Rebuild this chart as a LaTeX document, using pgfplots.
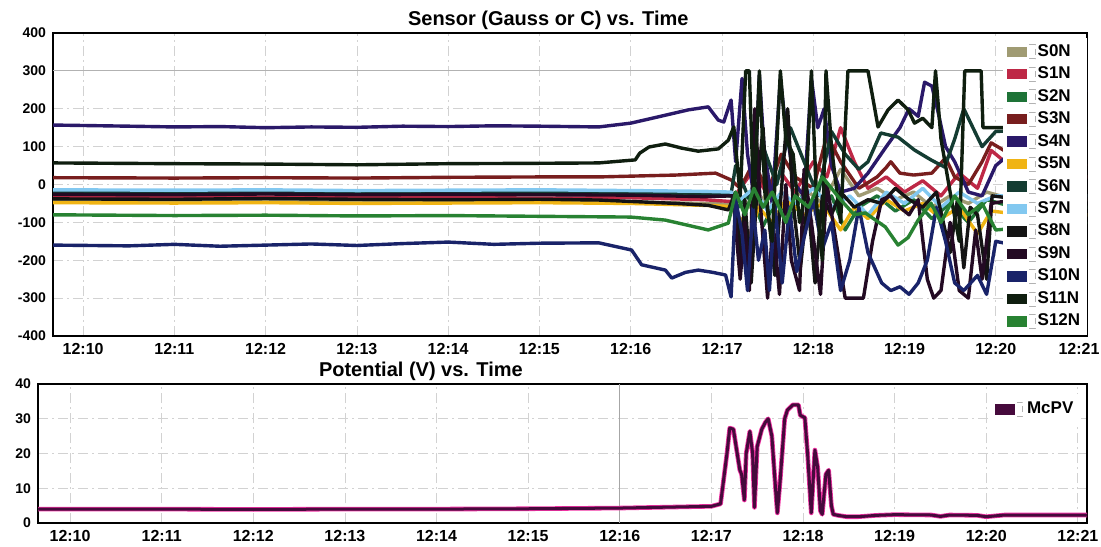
\documentclass[border=0pt]{standalone}
\usepackage{pgfplots}
\pgfplotsset{compat=1.18}
\usepackage{fontspec}
\setmainfont{Liberation Sans}

\definecolor{s0}{RGB}{160,155,115}
\definecolor{s1}{RGB}{190,40,70}
\definecolor{s2}{RGB}{30,115,55}
\definecolor{s3}{RGB}{120,30,30}
\definecolor{s4}{RGB}{42,25,105}
\definecolor{s5}{RGB}{240,180,20}
\definecolor{s6}{RGB}{20,60,50}
\definecolor{s7}{RGB}{130,200,240}
\definecolor{s8}{RGB}{20,20,20}
\definecolor{s9}{RGB}{35,10,35}
\definecolor{s10}{RGB}{25,35,105}
\definecolor{s11}{RGB}{15,30,15}
\definecolor{s12}{RGB}{40,130,50}
\definecolor{mcpv}{RGB}{70,10,60}

\pgfplotsset{
  chart/.style={
    scale only axis,
    anchor=south west,
    grid=major,
    grid style={gray!35, dash pattern=on 5pt off 2pt on 1pt off 2pt, line width=0.4pt},
    axis line style={line width=1.3pt},
    major tick length=0pt,
    xtick={0,1,...,11},
    xticklabels={12:10,12:11,12:12,12:13,12:14,12:15,12:16,12:17,12:18,12:19,12:20,\hspace*{-8pt}12:21},
    x tick label style={font=\fontsize{8}{9}\selectfont\bfseries},
    y tick label style={font=\fontsize{7}{8}\selectfont\bfseries},
    title style={font=\fontsize{10}{11}\selectfont\bfseries, inner sep=1.5pt, yshift=-6pt},
    legend cell align=left,
    legend image code/.code={
      \fill[##1, draw=none] (0pt,-2.6pt) rectangle (10pt,2.6pt);
      \draw[gray!60, densely dashed, line width=0.3pt] (11pt,3.5pt) -- (14pt,3.5pt) -- (14pt,-3.5pt) -- (11pt,-3.5pt);
    },
  },
  sl/.style={line width=1.7pt, line join=round},
}

\begin{document}
\begin{tikzpicture}
\useasboundingbox (0,0) rectangle (550.5pt,273pt);

% ---------------- top axis ----------------
\begin{axis}[chart,
  at={(26.5pt,105pt)}, width=517pt, height=151.5pt,
  xmin=-0.33, xmax=11.0, ymin=-400, ymax=400,
  ytick={-400,-300,...,400},
  yticklabels={-400,-300,-200,-100,0,100,200,300,400},
  title={Sensor (Gauss or C) vs. Time},
  title style={at={(0.479,1)}},
  legend style={at={(1,0.985)}, anchor=north east, fill=white, draw=none,
    font=\fontsize{8.5}{9}\selectfont\bfseries, row sep=1.4pt, inner sep=2pt,
    nodes={inner sep=1.2pt}},
]
% threshold line at 300
\addplot[forget plot, gray!60, line width=0.5pt] coordinates {(-0.33,300) (11,300)};

\addplot[sl, color=s0] coordinates {
(-0.33,-44) (1,-45) (2,-44) (3,-46) (4,-45) (5,-44) (6,-46) (6.8,-50) (7.1,-52)
(7.2,-30) (7.35,-70) (7.5,-20) (7.7,-60) (7.9,-10) (8.1,-50) (8.3,40) (8.5,-30) (8.7,-10) (8.9,-40) (9.1,-20) (9.3,-60) (9.5,-30) (9.7,-50) (9.9,-20) (10.2,-40) (11,-40)};
\addlegendentry{S0N}

\addplot[sl, color=s1] coordinates {
(-0.33,-34) (1,-35) (2,-33) (3,-35) (4,-34) (5,-36) (6,-35) (6.8,-40) (7.1,-45)
(7.2,-10) (7.35,40) (7.5,-30) (7.65,30) (7.8,-20) (8.0,60) (8.15,20) (8.3,150) (8.45,60) (8.6,-10) (8.8,20) (9.0,-20) (9.2,10) (9.4,-30) (9.6,30) (9.8,-10) (9.95,90) (10.3,20) (11,20)};
\addlegendentry{S1N}

\addplot[sl, color=s2] coordinates {
(-0.33,-22) (1,-23) (2,-22) (3,-24) (4,-23) (5,-22) (6,-24) (6.8,-28) (7.1,-30)
(7.18,-60) (7.3,-20) (7.45,-110) (7.6,-40) (7.75,-90) (7.9,-20) (8.05,-80) (8.2,-30) (8.35,-120) (8.5,-60) (8.7,-30) (8.9,-70) (9.1,-40) (9.3,-90) (9.5,-50) (9.7,-100) (9.9,-40) (10.2,-60) (11,-60)};
\addlegendentry{S2N}

\addplot[sl, color=s3] coordinates {
(-0.33,18) (1,17) (2,18) (3,17) (4,19) (5,20) (5.65,20) (6.5,25) (6.93,30) (7.1,12)
(7.2,-10) (7.35,60) (7.5,-20) (7.65,80) (7.8,20) (8.0,-10) (8.15,130) (8.3,60) (8.5,-10) (8.7,20) (8.8,45) (8.85,60) (8.95,30) (9.1,25) (9.3,30) (9.45,70) (9.55,20) (9.7,0) (9.85,60) (9.95,110) (10.3,60) (11,50)};
\addlegendentry{S3N}

\addplot[sl, color=s4] coordinates {
(-0.33,157) (0.5,154) (1,152) (1.5,153) (2,150) (2.5,152) (3,151) (3.5,154) (4,153) (4.5,155) (5,154) (5.65,152)
(6.0,162) (6.2,173) (6.38,183) (6.63,197) (6.85,205) (6.96,170) (7.02,165) (7.1,223)
(7.15,60) (7.22,280) (7.28,80) (7.35,-30) (7.41,290) (7.46,100) (7.55,-50) (7.64,280) (7.7,150) (7.8,0) (7.9,-30) (7.98,280) (8.05,150) (8.12,200) (8.2,50) (8.3,-20) (8.45,-10) (8.6,30) (8.8,100) (8.95,150) (9.05,200) (9.15,180) (9.22,270) (9.3,260) (9.36,200) (9.45,100) (9.55,60) (9.7,-20) (9.85,-30) (10.0,50) (10.5,150) (11,250)};
\addlegendentry{S4N}

\addplot[sl, color=s5] coordinates {
(-0.33,-48) (1,-49) (2,-48) (3,-50) (4,-49) (5,-48) (6,-50) (6.8,-55) (7.1,-58)
(7.2,-90) (7.3,-140) (7.4,-60) (7.55,-100) (7.7,-40) (7.9,-80) (8.1,-50) (8.3,-120) (8.45,-60) (8.6,-90) (8.8,-40) (9.0,-70) (9.2,-50) (9.4,-90) (9.6,-60) (9.8,-130) (9.95,-70) (10.3,-80) (11,-80)};
\addlegendentry{S5N}

\addplot[sl, color=s6] coordinates {
(-0.33,-19) (1,-20) (2,-19) (3,-21) (4,-20) (5,-19) (6,-21) (6.8,-23) (7.1,-25)
(7.15,50) (7.3,-40) (7.45,100) (7.6,0) (7.75,150) (7.9,60) (8.05,-30) (8.2,140) (8.35,80) (8.5,40) (8.6,60) (8.74,136) (8.93,125) (9.11,91) (9.29,65) (9.44,46) (9.55,120) (9.65,200) (9.75,150) (9.85,100) (10.0,140) (11,150)};
\addlegendentry{S6N}

\addplot[sl, color=s7] coordinates {
(-0.33,-14) (1,-15) (2,-14) (3,-16) (4,-15) (5,-14) (6,-16) (6.8,-18) (7.1,-20)
(7.2,-40) (7.35,-10) (7.5,-70) (7.65,-20) (7.8,-50) (8.0,-10) (8.2,-60) (8.4,-30) (8.6,-80) (8.8,-20) (9.0,-50) (9.2,-10) (9.4,-60) (9.6,-20) (9.8,-50) (10.0,-30) (11,-30)};
\addlegendentry{S7N}

\addplot[sl, color=s8] coordinates {
(-0.33,-38) (1,-39) (2,-37) (3,-39) (4,-40) (5,-39) (5.65,-41) (6.5,-50) (6.85,-55) (7.07,-67)
(7.15,-20) (7.2,-200) (7.25,-40) (7.32,-260) (7.38,-30) (7.45,150) (7.5,-60) (7.58,-240) (7.65,-20) (7.72,200) (7.78,-50) (7.86,-220) (7.94,-40) (8.02,-260) (8.1,-30) (8.2,-80) (8.3,-20) (8.45,-60) (8.6,-40) (8.75,-50) (8.9,-10) (9.05,-40) (9.2,-60) (9.35,-20) (9.5,-180) (9.58,-40) (9.65,-220) (9.72,-60) (9.8,-80) (9.9,-250) (9.96,-30) (10.3,-40) (11,-40)};
\addlegendentry{S8N}

\addplot[sl, color=s9] coordinates {
(-0.33,-26) (1,-27) (2,-25) (3,-27) (4,-26) (5,-27) (6,-28) (6.8,-32) (7.12,-30)
(7.2,-250) (7.25,-100) (7.3,-280) (7.36,200) (7.42,-50) (7.5,-300) (7.56,-100) (7.63,-290) (7.7,0) (7.76,-200) (7.85,-280) (7.9,40) (7.98,-100) (8.08,-290) (8.15,0) (8.25,-150) (8.35,-300) (8.55,-300) (8.65,-150) (8.75,-40) (8.85,-30) (8.95,-60) (9.05,-80) (9.15,-40) (9.25,-250) (9.32,-300) (9.4,-280) (9.5,-100) (9.6,-280) (9.7,-300) (9.78,-120) (9.85,-250) (9.95,-50) (10.2,-40) (11,-40)};
\addlegendentry{S9N}

\addplot[sl, color=s10] coordinates {
(-0.33,-160) (0.5,-162) (1,-158) (1.5,-163) (2,-160) (2.5,-157) (3,-161) (3.5,-156) (4,-152) (4.5,-158) (5,-155) (5.65,-154)
(6.01,-173) (6.12,-212) (6.38,-226) (6.45,-247) (6.6,-232) (6.74,-226) (6.9,-232) (7.04,-239) (7.1,-297)
(7.15,-40) (7.22,-130) (7.28,-280) (7.34,-60) (7.4,-200) (7.47,-120) (7.52,-280) (7.58,-50) (7.66,-260) (7.74,-60) (7.82,-230) (7.9,-140) (8.0,-40) (8.1,-170) (8.2,-100) (8.3,-280) (8.4,-200) (8.5,-60) (8.6,-180) (8.75,-260) (8.85,-280) (8.95,-270) (9.05,-290) (9.15,-260) (9.25,-200) (9.35,-60) (9.45,-150) (9.55,-260) (9.65,-280) (9.8,-240) (9.9,-290) (10.0,-150) (11,-200)};
\addlegendentry{S10N}

\addplot[sl, color=s11] coordinates {
(-0.33,57) (1,55) (2,54) (3,52) (4,55) (5,56) (5.65,57) (6.05,65) (6.1,83) (6.2,99) (6.38,107) (6.56,96) (6.74,88) (6.96,94) (7.07,117) (7.13,152)
(7.2,-30) (7.26,300) (7.3,300) (7.35,-60) (7.41,300) (7.47,-20) (7.55,-150) (7.64,300) (7.7,120) (7.78,80) (7.85,-100) (7.92,-20) (7.98,300) (8.04,-60) (8.1,-200) (8.14,300) (8.2,100) (8.3,-100) (8.38,300) (8.6,300) (8.71,152) (8.82,197) (8.93,223) (9.04,197) (9.11,162) (9.2,175) (9.3,150) (9.34,300) (9.4,120) (9.5,-20) (9.6,-150) (9.66,300) (9.84,300) (9.86,150) (10.0,150) (11,150)};
\addlegendentry{S11N}

\addplot[sl, color=s12] coordinates {
(-0.33,-80) (1,-82) (2,-81) (3,-83) (4,-82) (5,-84) (6,-86) (6.38,-94) (6.85,-120) (7.07,-102)
(7.15,-20) (7.25,-80) (7.35,-10) (7.45,-60) (7.55,-20) (7.7,-100) (7.8,-30) (7.95,-60) (8.1,20) (8.3,-40) (8.45,-80) (8.57,-75) (8.79,-112) (8.93,-160) (9.04,-140) (9.15,-94) (9.29,-49) (9.4,-100) (9.55,-30) (9.7,-80) (9.85,-50) (10.0,-120) (11,-100)};
\addlegendentry{S12N}
\end{axis}

% ---------------- bottom axis ----------------
\pgfplotstableread{
t v
-0.35 4.0
1 4.0
2 3.9
3 4.0
4 4.0
5 4.1
6 4.3
6.6 4.6
7.0 4.8
7.1 5.5
7.17 20
7.2 27.3
7.24 27
7.31 15.3
7.33 14
7.36 6.6
7.38 20
7.42 26.4
7.45 20
7.47 4.5
7.5 22
7.55 27
7.59 29
7.62 30
7.66 25
7.7 10
7.72 2.9
7.75 12
7.8 30
7.83 32.5
7.89 34
7.95 34
7.97 31
8.02 30.3
8.05 20
8.09 2.9
8.13 21
8.16 16
8.19 3.5
8.21 2.5
8.25 14
8.28 15.2
8.31 5
8.33 2.5
8.38 2.2
8.48 1.8
8.6 1.8
8.8 2.2
9.0 2.4
9.4 2.3
9.5 1.9
9.6 2.3
9.9 2.2
10.0 1.8
10.2 2.3
11.1 2.3
}\mcpvtable

\begin{axis}[chart,
  at={(19pt,11.5pt)}, width=524.5pt, height=69.5pt,
  xmin=-0.35, xmax=11.1, ymin=0, ymax=40,
  ytick={0,10,20,30,40},
  yticklabels={0,10,20,30,40},
  xticklabels={12:10,12:11,12:12,12:13,12:14,12:15,12:16,12:17,12:18,12:19,12:20,12:21},
  title={Potential (V) vs. Time},
  title style={at={(0.365,1)}},
  legend style={at={(0.995,0.93)}, anchor=north east, fill=white, draw=none,
    font=\fontsize{8.5}{9}\selectfont\bfseries, inner sep=2pt},
]
\addplot[forget plot, gray!70, line width=0.6pt] coordinates {(6,0) (6,40)};
\addplot[forget plot, magenta!80, line width=2.3pt, line join=round] table[x=t, y=v] {\mcpvtable};
\addplot[color=mcpv, line width=1.5pt, line join=round] table[x=t, y=v] {\mcpvtable};
\addlegendentry{McPV}
\end{axis}
\end{tikzpicture}
\end{document}
